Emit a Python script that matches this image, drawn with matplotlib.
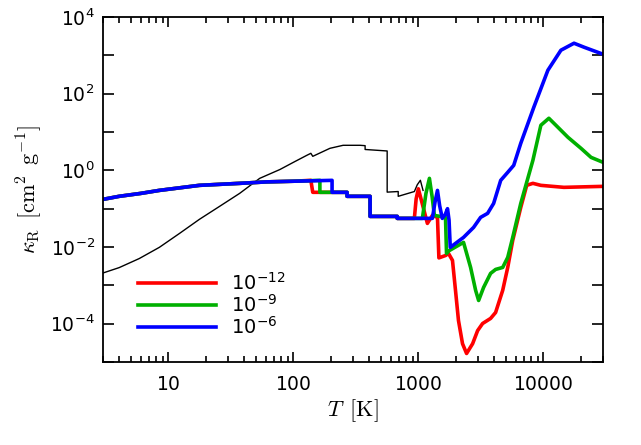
import math
import matplotlib
matplotlib.use("Agg")
import matplotlib.pyplot as plt
from matplotlib.ticker import FixedLocator, FuncFormatter, LogLocator, NullFormatter

plt.rcParams['mathtext.fontset'] = 'custom'
plt.rcParams['mathtext.rm'] = 'cmr10'
plt.rcParams['mathtext.it'] = 'cmmi10'
plt.rcParams['mathtext.bf'] = 'cmb10'
plt.rcParams['mathtext.sf'] = 'DejaVu Sans'
plt.rcParams['mathtext.fallback'] = 'cm'

# reference curve (thin black)
T_ref = [3, 4.04, 5.85, 8.47, 12.3, 17.7, 25.7, 37.2, 53.8, 78, 103, 128, 138, 143, 196, 250,
         342, 375, 375, 563, 563, 690, 690, 929, 980, 1038, 1090]
k_ref = [0.0021, 0.0029, 0.005, 0.0098, 0.0227, 0.0526, 0.115, 0.251, 0.618, 1.05, 1.7, 2.46,
         2.78, 2.32, 3.75, 4.5, 4.5, 4.4, 3.5, 3.2, 0.27, 0.28, 0.21, 0.28, 0.42, 0.55, 0.3]

# rho = 1e-12
T_12 = [3, 4.04, 6.0, 8.47, 17.7, 37.2, 61.3, 100, 138, 143, 269, 269, 411, 411, 678, 678, 929,
        960, 1000, 1060, 1181, 1295, 1422, 1460, 1650, 1742, 1875, 1982, 2094, 2256, 2431,
        2717, 2980, 3265, 3784, 4150, 4729, 5188, 5689, 6596, 7360, 8245, 9551, 14610, 30000]
k_12 = [0.175, 0.21, 0.25, 0.30, 0.406, 0.458, 0.50, 0.52, 0.548, 0.267, 0.267, 0.21, 0.21,
        0.0629, 0.0629, 0.0558, 0.0558, 0.18, 0.33, 0.16, 0.0413, 0.0668, 0.0593, 0.0052,
        0.006, 0.0068, 0.00447, 7.4e-4, 1.21e-4, 3.0e-5, 1.67e-5, 3.0e-5, 6.6e-5, 1.01e-4,
        1.37e-4, 1.96e-4, 7.4e-4, 2.93e-3, 0.0149, 0.108, 0.406, 0.458, 0.406, 0.36, 0.382]

# rho = 1e-9
T_9 = [3, 4.04, 6.0, 8.47, 17.7, 37.2, 61.3, 100, 163, 163, 269, 269, 411, 411, 678, 678, 1077,
       1150, 1226, 1290, 1343, 1649, 1680, 1760, 2298, 2618, 2872, 3035, 3325, 3784, 4150, 4729,
       5188, 5689, 6596, 8245, 9551, 11070, 12600, 15740, 20010, 24070, 30000]
k_9 = [0.175, 0.21, 0.25, 0.30, 0.406, 0.458, 0.50, 0.52, 0.548, 0.267, 0.267, 0.21, 0.21,
       0.0629, 0.0629, 0.0558, 0.0558, 0.25, 0.618, 0.2, 0.0668, 0.0593, 0.0068, 0.008, 0.0132,
       0.00293, 7.4e-4, 4.03e-4, 8.8e-4, 0.00205, 0.0026, 0.00293, 0.00535, 0.0178, 0.137,
       1.82, 15.0, 22.8, 15.0, 7.27, 3.75, 2.18, 1.62]

# rho = 1e-6
T_6 = [3, 4.04, 6.0, 8.47, 17.7, 37.2, 61.3, 100, 204, 204, 269, 269, 411, 411, 678, 678, 1295,
       1360, 1422, 1480, 1555, 1640, 1711, 1760, 1800, 2298, 2767, 3148, 3581, 4001, 4558, 5188,
       5794, 6596, 8389, 10870, 13820, 17590, 21150, 30000]
k_6 = [0.175, 0.21, 0.25, 0.30, 0.406, 0.458, 0.50, 0.52, 0.548, 0.267, 0.267, 0.21, 0.21,
       0.0629, 0.0629, 0.0558, 0.0558, 0.15, 0.30, 0.12, 0.0558, 0.07, 0.10, 0.05, 0.0098,
       0.0178, 0.0325, 0.0593, 0.0754, 0.137, 0.548, 0.887, 1.35, 5.07, 44.2, 408, 1360, 2070,
       1630, 1070]

labels = [r'$\mathsf{10^{-12}}$', r'$\mathsf{10^{-9}}$', r'$\mathsf{10^{-6}}$']
colors = ['#ff0000', '#00b000', '#0000ff']

fig = plt.figure(figsize=(6.41, 4.45), dpi=100)
ax = fig.add_axes([0.1607, 0.1865, 0.78, 0.7753])

ax.plot(T_ref, k_ref, color='black', lw=1.0)
for T, k, c, lab in zip([T_12, T_9, T_6], [k_12, k_9, k_6], colors, labels):
    ax.plot(T, k, color=c, lw=2.6, label=lab)

ax.set_xscale('log')
ax.set_yscale('log')
ax.set_xlim(3, 30000)
ax.set_ylim(1e-5, 1e4)

ax.xaxis.set_major_locator(FixedLocator([10, 100, 1000, 10000]))
ax.xaxis.set_minor_locator(LogLocator(base=10, subs=range(2, 10)))
ax.xaxis.set_minor_formatter(NullFormatter())
ax.xaxis.set_major_formatter(FuncFormatter(lambda v, p: r'$\mathsf{%d}$' % v))

ax.yaxis.set_major_locator(FixedLocator([1e-4, 1e-2, 1, 1e2, 1e4]))
ax.yaxis.set_minor_locator(FixedLocator([1e-5, 1e-3, 1e-1, 1e1, 1e3]))
ax.yaxis.set_minor_formatter(NullFormatter())
ax.yaxis.set_major_formatter(FuncFormatter(
    lambda v, p: r'$\mathsf{10^{%d}}$' % round(math.log10(v))))

ax.tick_params(which='both', direction='in', top=True, right=True, labelsize=13.5, width=1.2)
ax.tick_params(axis='y', which='both', length=8, pad=6)
ax.tick_params(axis='x', which='major', length=7, pad=9)
ax.tick_params(axis='x', which='minor', length=4)
for s in ax.spines.values():
    s.set_linewidth(1.3)

ax.set_xlabel(r'$T\ \,[\mathrm{K}]$', fontsize=16, labelpad=3)
ax.set_ylabel(r'$\kappa_\mathrm{R}\ \,[\mathrm{cm}^2\ \,\mathrm{g}^{-1}]$', fontsize=16, labelpad=4)

ax.legend(loc='lower left', bbox_to_anchor=(0.035, 0.02), frameon=False, fontsize=14,
          handlelength=4.0, labelspacing=0.0, handletextpad=0.8)

fig.savefig('out.png', dpi=100)
